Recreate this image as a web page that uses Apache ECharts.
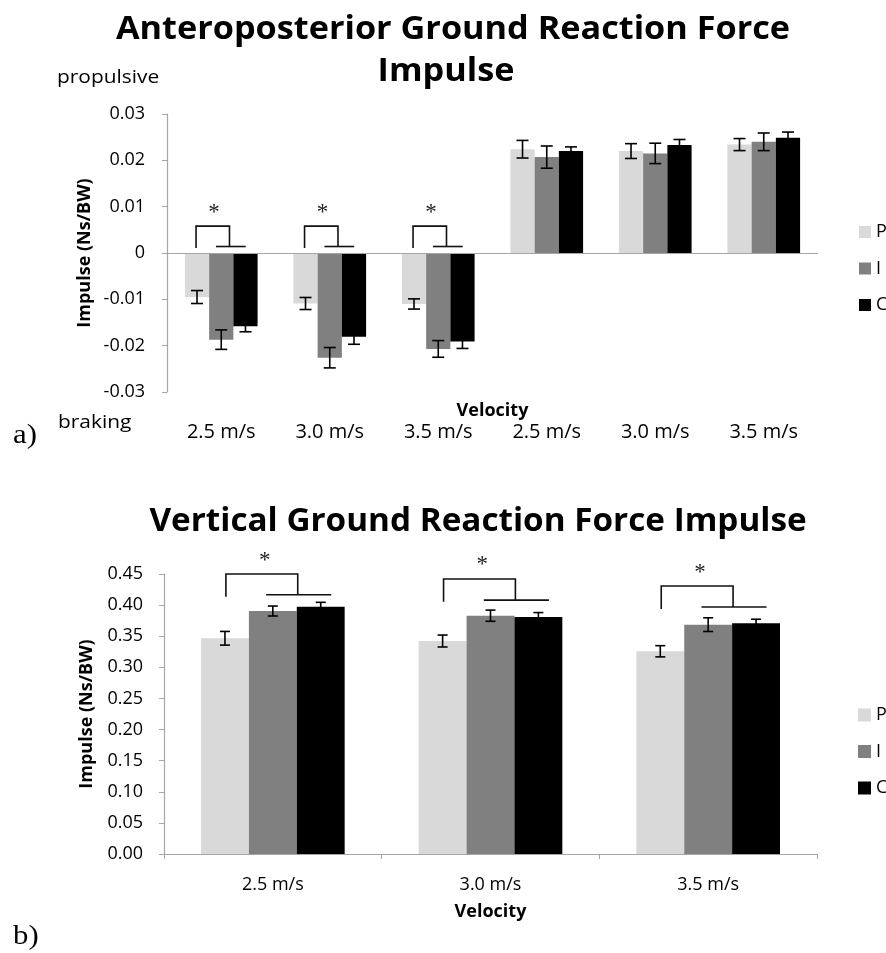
<!DOCTYPE html>
<html>
<head>
<meta charset="utf-8">
<script src="https://cdn.jsdelivr.net/npm/echarts@6/dist/echarts.min.js"></script>
<style>
  html, body { margin: 0; padding: 0; background: #fff; }
  #chart { width: 886px; height: 953px; }
</style>
</head>
<body>
<div id="chart"></div>
<script>
// ---- Anteroposterior GRF impulse (Ns/BW): three braking groups, then three propulsive groups
const apCategories = ['2.5 m/s', '3.0 m/s', '3.5 m/s', '2.5 m/s', '3.0 m/s', '3.5 m/s'];
const apP = [-0.0095, -0.0109, -0.0110, 0.0224, 0.0220, 0.0234];
const apI = [-0.0187, -0.0226, -0.0207, 0.0207, 0.0215, 0.0240];
const apC = [-0.0158, -0.0181, -0.0191, 0.0220, 0.0233, 0.0249];
const apErrP = [0.0014, 0.0013, 0.0011, 0.0019, 0.0016, 0.0013];
const apErrI = [0.0021, 0.0022, 0.0018, 0.0024, 0.0022, 0.0019];
const apErrC = [0.0012, 0.0016, 0.0015, 0.0009, 0.0012, 0.0012];
const apTicks = [-0.03, -0.02, -0.01, 0, 0.01, 0.02, 0.03];
// significance brackets: [group, bracket top, left leg end, lower line, asterisk]
const apSig = [
  [0, 0.0058, 0.0011, 0.0014, 0.0086],
  [1, 0.0058, 0.0011, 0.0014, 0.0086],
  [2, 0.0058, 0.0011, 0.0014, 0.0086]
];

// ---- Vertical GRF impulse (Ns/BW)
const vCategories = ['2.5 m/s', '3.0 m/s', '3.5 m/s'];
const vP = [0.3467, 0.3423, 0.3258];
const vI = [0.3905, 0.3830, 0.3686];
const vC = [0.3975, 0.3810, 0.3708];
const vErrP = [0.0110, 0.0096, 0.0090];
const vErrI = [0.0080, 0.0090, 0.0110];
const vErrC = [0.0070, 0.0070, 0.0065];
const vTicks = [0, 0.05, 0.10, 0.15, 0.20, 0.25, 0.30, 0.35, 0.40, 0.45];
const vSig = [
  [0, 0.4500, 0.4135, 0.4167, 0.4714],
  [1, 0.4420, 0.4055, 0.4080, 0.4645],
  [2, 0.4307, 0.3938, 0.3970, 0.4510]
];

const groupNames = ['P', 'I', 'C'];
const groupColors = ['#d9d9d9', '#808080', '#000000'];
const FONT = 'Open Sans';
const AP_GAP = 0.33, V_GAP = 0.34;

function barWidthOf(api, gap) {
  return api.size([1, 0])[0] * (1 - gap) / 3;
}

// error bar drawn at the centre of bar number `slot` within its group
function errorBarRenderer(slot, gap, cap) {
  return function (params, api) {
    const c = api.value(0), v = api.value(1), e = api.value(2);
    const bw = barWidthOf(api, gap);
    const x = api.coord([c, v])[0] + (slot - 1) * bw;
    const yLo = api.coord([c, v - e])[1];
    const yHi = api.coord([c, v + e])[1];
    const st = { stroke: '#000', lineWidth: 1.6 };
    return {
      type: 'group',
      children: [
        { type: 'line', shape: { x1: x, y1: yLo, x2: x, y2: yHi }, style: st },
        { type: 'line', shape: { x1: x - cap / 2, y1: yLo, x2: x + cap / 2, y2: yLo }, style: st },
        { type: 'line', shape: { x1: x - cap / 2, y1: yHi, x2: x + cap / 2, y2: yHi }, style: st }
      ]
    };
  };
}

// bracket from P to the I/C pair, with asterisk; geo = offsets in bar widths
function bracketRenderer(gap, geo) {
  return function (params, api) {
    const c = api.value(0);
    const bw = barWidthOf(api, gap);
    const cx = api.coord([c, 0])[0];
    const yTop = api.coord([c, api.value(1)])[1];
    const yLeg = api.coord([c, api.value(2)])[1];
    const yLine = api.coord([c, api.value(3)])[1];
    const yStar = api.coord([c, api.value(4)])[1];
    const xl = cx + geo.leg * bw, xd = cx + geo.drop * bw;
    const st = { stroke: '#111', lineWidth: 1.6, fill: null };
    return {
      type: 'group',
      children: [
        { type: 'polyline', shape: { points: [[xl, yLeg], [xl, yTop], [xd, yTop], [xd, yLine]] }, style: st },
        { type: 'line', shape: { x1: cx + geo.l1 * bw, y1: yLine, x2: cx + geo.l2 * bw, y2: yLine }, style: st },
        { type: 'text', x: cx + geo.star * bw, y: yStar,
          style: { text: '*', fill: '#222', font: '23px "Liberation Serif"', align: 'center', verticalAlign: 'middle' } }
      ]
    };
  };
}

function barSeries(name, data, color, xi, withZero) {
  const s = {
    name: name, type: 'bar', data: data, xAxisIndex: xi, yAxisIndex: xi,
    itemStyle: { color: color }, barGap: '0%',
    barCategoryGap: (xi === 0 ? AP_GAP : V_GAP) * 100 + '%',
    emphasis: { disabled: true }
  };
  if (withZero) {
    s.markLine = {
      silent: true, symbol: 'none', label: { show: false },
      lineStyle: { color: '#a6a6a6', width: 1.2, type: 'solid' },
      data: [{ yAxis: 0 }]
    };
  }
  return s;
}

function errSeries(vals, errs, slot, xi, gap, cap) {
  return {
    type: 'custom', xAxisIndex: xi, yAxisIndex: xi, z: 5,
    renderItem: errorBarRenderer(slot, gap, cap),
    encode: { x: 0, y: 1 },
    data: vals.map((v, i) => [i, v, errs[i]])
  };
}

function sigSeries(rows, xi, gap, geo) {
  return {
    type: 'custom', xAxisIndex: xi, yAxisIndex: xi, z: 6, clip: false,
    renderItem: bracketRenderer(gap, geo),
    encode: { x: 0, y: 1 },
    data: rows
  };
}

// plain text placed on the canvas, optionally widened
function label(text, x, y, font, opts) {
  return Object.assign({
    type: 'text', x: x, y: y, scaleX: 1,
    style: { text: text, font: font, fill: '#000', verticalAlign: 'middle', align: 'left' }
  }, opts || {});
}

const chart = echarts.init(document.getElementById('chart'), null, { renderer: 'canvas' });

const axisGray = '#a6a6a6';
const labelStyle = { color: '#000', fontFamily: FONT };
const titleFont = 'bold 32px "Open Sans"';

const option = {
  backgroundColor: '#fff',
  animation: false,
  graphic: [
    { type: 'text', x: 453, y: 30, scaleX: 1.07, style: { text: 'Anteroposterior Ground Reaction Force', font: titleFont, fill: '#000', align: 'center', verticalAlign: 'middle' } },
    { type: 'text', x: 446, y: 72, scaleX: 1.07, style: { text: 'Impulse', font: titleFont, fill: '#000', align: 'center', verticalAlign: 'middle' } },
    { type: 'text', x: 478, y: 522, scaleX: 1.04, style: { text: 'Vertical Ground Reaction Force Impulse', font: titleFont, fill: '#000', align: 'center', verticalAlign: 'middle' } },
    label('propulsive', 57, 78, '19px "Open Sans"', { scaleX: 1.1 }),
    label('braking', 58, 423, '19px "Open Sans"', { scaleX: 1.1 }),
    label('a)', 13, 436, '28px "Liberation Serif"', { scaleX: 1.1 }),
    label('b)', 13, 937, '28px "Liberation Serif"', { scaleX: 1.1 })
  ],
  legend: [
    {
      data: groupNames, orient: 'vertical', left: 854, top: 218, icon: 'rect',
      itemWidth: 12, itemHeight: 12, itemGap: 18.5, selectedMode: false,
      textStyle: { fontSize: 18, lineHeight: 16, color: '#000', fontFamily: FONT }
    },
    {
      data: groupNames, orient: 'vertical', left: 853, top: 701, icon: 'rect',
      itemWidth: 13, itemHeight: 13, itemGap: 18.5, selectedMode: false,
      textStyle: { fontSize: 18, lineHeight: 16, color: '#000', fontFamily: FONT }
    }
  ],
  grid: [
    { left: 167, right: 68, top: 114, height: 278, containLabel: false, outerBoundsMode: 'none' },
    { left: 164, right: 69, top: 574, height: 280, containLabel: false, outerBoundsMode: 'none' }
  ],
  xAxis: [
    {
      type: 'category', gridIndex: 0, data: apCategories,
      axisLine: { show: false, onZero: false }, axisTick: { show: false },
      axisLabel: Object.assign({ fontSize: 20, margin: 30, interval: 0 }, labelStyle),
      name: 'Velocity', nameLocation: 'middle', nameGap: 10, nameMoveOverlap: false,
      nameTextStyle: { fontWeight: 'bold', fontSize: 18, color: '#000', fontFamily: FONT },
      splitLine: { show: false }
    },
    {
      type: 'category', gridIndex: 1, data: vCategories,
      axisLine: { show: true, lineStyle: { color: axisGray, width: 1.2 } },
      axisTick: { show: true, length: 5, lineStyle: { color: axisGray } },
      axisLabel: Object.assign({ fontSize: 18, margin: 22, interval: 0 }, labelStyle),
      name: 'Velocity', nameLocation: 'middle', nameGap: 49, nameMoveOverlap: false,
      nameTextStyle: { fontWeight: 'bold', fontSize: 18, color: '#000', fontFamily: FONT },
      splitLine: { show: false }
    }
  ],
  yAxis: [
    {
      type: 'value', gridIndex: 0,
      min: apTicks[0], max: apTicks[apTicks.length - 1], interval: 0.01,
      axisLine: { show: true, lineStyle: { color: axisGray, width: 1.2 } },
      axisTick: { show: true, length: 5, lineStyle: { color: axisGray } },
      axisLabel: Object.assign({ fontSize: 18, margin: 22, formatter: v => Math.abs(v) < 1e-9 ? '0' : v.toFixed(2) }, labelStyle),
      splitLine: { show: false },
      name: 'Impulse (Ns/BW)', nameLocation: 'middle', nameGap: 73, nameRotate: 90, nameMoveOverlap: false,
      nameTextStyle: { fontWeight: 'bold', fontSize: 18, color: '#000', fontFamily: FONT }
    },
    {
      type: 'value', gridIndex: 1,
      min: vTicks[0], max: vTicks[vTicks.length - 1], interval: 0.05,
      axisLine: { show: true, lineStyle: { color: axisGray, width: 1.2 } },
      axisTick: { show: true, length: 5, lineStyle: { color: axisGray } },
      axisLabel: Object.assign({ fontSize: 18, margin: 21, formatter: v => v.toFixed(2) }, labelStyle),
      splitLine: { show: false },
      name: 'Impulse (Ns/BW)', nameLocation: 'middle', nameGap: 68, nameRotate: 90, nameMoveOverlap: false,
      nameTextStyle: { fontWeight: 'bold', fontSize: 18, color: '#000', fontFamily: FONT }
    }
  ],
  series: [
    barSeries('P', apP, groupColors[0], 0, true),
    barSeries('I', apI, groupColors[1], 0, false),
    barSeries('C', apC, groupColors[2], 0, false),
    errSeries(apP, apErrP, 0, 0, AP_GAP, 12),
    errSeries(apI, apErrI, 1, 0, AP_GAP, 12),
    errSeries(apC, apErrC, 2, 0, AP_GAP, 12),
    sigSeries(apSig, 0, AP_GAP, { leg: -1.04, drop: 0.34, l1: -0.22, l2: 1.01, star: -0.3 }),

    barSeries('P', vP, groupColors[0], 1, false),
    barSeries('I', vI, groupColors[1], 1, false),
    barSeries('C', vC, groupColors[2], 1, false),
    errSeries(vP, vErrP, 0, 1, V_GAP, 10),
    errSeries(vI, vErrI, 1, 1, V_GAP, 10),
    errSeries(vC, vErrC, 2, 1, V_GAP, 10),
    sigSeries(vSig, 1, V_GAP, { leg: -0.98, drop: 0.52, l1: -0.14, l2: 1.22, star: -0.17 })
  ]
};

chart.setOption(option);
</script>
</body>
</html>
